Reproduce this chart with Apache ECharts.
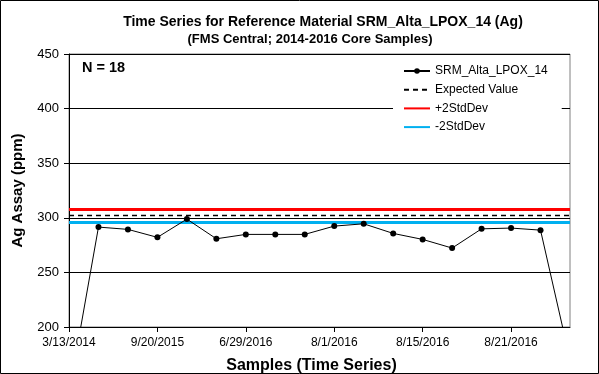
<!DOCTYPE html>
<html>
<head>
<meta charset="utf-8">
<script src="https://cdn.jsdelivr.net/npm/echarts@6/dist/echarts.min.js"></script>
<style>
  html, body { margin: 0; padding: 0; background: #fff; }
  #chart { width: 599px; height: 374px; }
</style>
</head>
<body>
<div id="chart"></div>
<script>
// Sample dates (one per assay, in run order)
const sampleDates = [
  '3/13/2014', '6/4/2014', '3/2/2015', '9/20/2015', '12/8/2015', '3/21/2016',
  '6/29/2016', '7/12/2016', '7/25/2016', '8/1/2016', '8/5/2016', '8/10/2016',
  '8/15/2016', '8/17/2016', '8/19/2016', '8/21/2016', '8/24/2016', '8/29/2016'
];
// Ag assay results (ppm)
const agAssay = [
  139.2, 291.5, 289.4, 282.1, 298.8, 280.8,
  284.8, 284.8, 284.8, 292.4, 294.5, 285.7,
  280.2, 272.3, 289.9, 290.6, 288.7, 170.2
];
// Reference limits (ppm)
const expectedValue = 302.2;
const plus2StdDev = 307.7;
const minus2StdDev = 295.8;
// Y axis range
const yMin = 200, yMax = 450, yStep = 50;

const FONT = 'Liberation Sans, Arial, sans-serif';
const constantLine = v => sampleDates.map(() => v);
// legend entries for the limit lines show only the line, no marker
const lineOnly = name => ({ name, itemStyle: { opacity: 0 } });

const chart = echarts.init(document.getElementById('chart'), null, { renderer: 'canvas' });
chart.setOption({
  backgroundColor: '#fff',
  animation: false,
  title: [
    {
      text: 'Time Series for Reference Material SRM_Alta_LPOX_14 (Ag)',
      left: 323, top: 15, textAlign: 'center', padding: 0,
      textStyle: { fontFamily: FONT, fontSize: 14, fontWeight: 'bold', color: '#000' }
    },
    {
      text: '(FMS Central; 2014-2016 Core Samples)',
      left: 310, top: 33, textAlign: 'center', padding: 0,
      textStyle: { fontFamily: FONT, fontSize: 13, fontWeight: 'bold', color: '#000' }
    }
  ],
  grid: {
    left: 69, right: 29, top: 54, bottom: 47,
    outerBoundsMode: 'none', containLabel: false,
    show: true, borderColor: '#808080', borderWidth: 1, backgroundColor: 'transparent'
  },
  legend: {
    orient: 'vertical', left: 393, top: 59,
    padding: [6, 14, 6, 10],
    backgroundColor: '#fff',
    itemWidth: 26, itemHeight: 7, itemGap: 6.7,
    textStyle: { fontFamily: FONT, fontSize: 12, color: '#000' },
    data: ['SRM_Alta_LPOX_14', lineOnly('Expected Value'), lineOnly('+2StdDev'), lineOnly('-2StdDev')]
  },
  xAxis: {
    type: 'category', data: sampleDates, boundaryGap: false,
    name: 'Samples (Time Series)', nameLocation: 'middle', nameGap: 31,
    nameTextStyle: { fontFamily: FONT, fontSize: 16, fontWeight: 'bold', color: '#000', padding: [0, 16, 0, 0] },
    axisLine: { lineStyle: { color: '#000', width: 1 } },
    axisTick: { show: true, interval: 2, length: 5, lineStyle: { color: '#000' } },
    axisLabel: { interval: 2, fontFamily: FONT, fontSize: 12, color: '#000', margin: 10 },
    splitLine: { show: false }
  },
  yAxis: {
    type: 'value', min: yMin, max: yMax, interval: yStep,
    name: 'Ag Assay (ppm)', nameLocation: 'middle', nameGap: 44, nameRotate: 90,
    nameTextStyle: { fontFamily: FONT, fontSize: 15, fontWeight: 'bold', color: '#000' },
    axisLine: { show: true, lineStyle: { color: '#000', width: 1 } },
    axisTick: { show: true, length: 5, lineStyle: { color: '#000' } },
    axisLabel: { fontFamily: FONT, fontSize: 13, color: '#000', margin: 10 },
    splitLine: { show: true, lineStyle: { color: '#000', width: 1 } }
  },
  series: [
    {
      name: '+2StdDev', type: 'line', data: constantLine(plus2StdDev),
      symbol: 'none', lineStyle: { color: '#FF0000', width: 3 }, itemStyle: { color: '#FF0000' }, z: 3
    },
    {
      name: '-2StdDev', type: 'line', data: constantLine(minus2StdDev),
      symbol: 'none', lineStyle: { color: '#00B0F0', width: 3 }, itemStyle: { color: '#00B0F0' }, z: 3
    },
    {
      name: 'Expected Value', type: 'line', data: constantLine(expectedValue),
      symbol: 'none', lineStyle: { color: '#000', width: 1.5, type: [5, 4] }, itemStyle: { color: '#000' }, z: 4
    },
    {
      name: 'SRM_Alta_LPOX_14', type: 'line', data: agAssay,
      symbol: 'circle', symbolSize: 6, clip: true,
      lineStyle: { color: '#000', width: 1 }, itemStyle: { color: '#000' }, z: 5
    }
  ],
  graphic: [
    {
      type: 'rect', shape: { x: 0.5, y: 0.5, width: 598, height: 373 },
      style: { fill: 'none', stroke: '#000', lineWidth: 1 }, z: 100
    },
    {
      type: 'text', left: 82, top: 60,
      style: { text: 'N = 18', font: 'bold 14.5px ' + FONT, fill: '#000' }, z: 100
    }
  ]
});
</script>
</body>
</html>
